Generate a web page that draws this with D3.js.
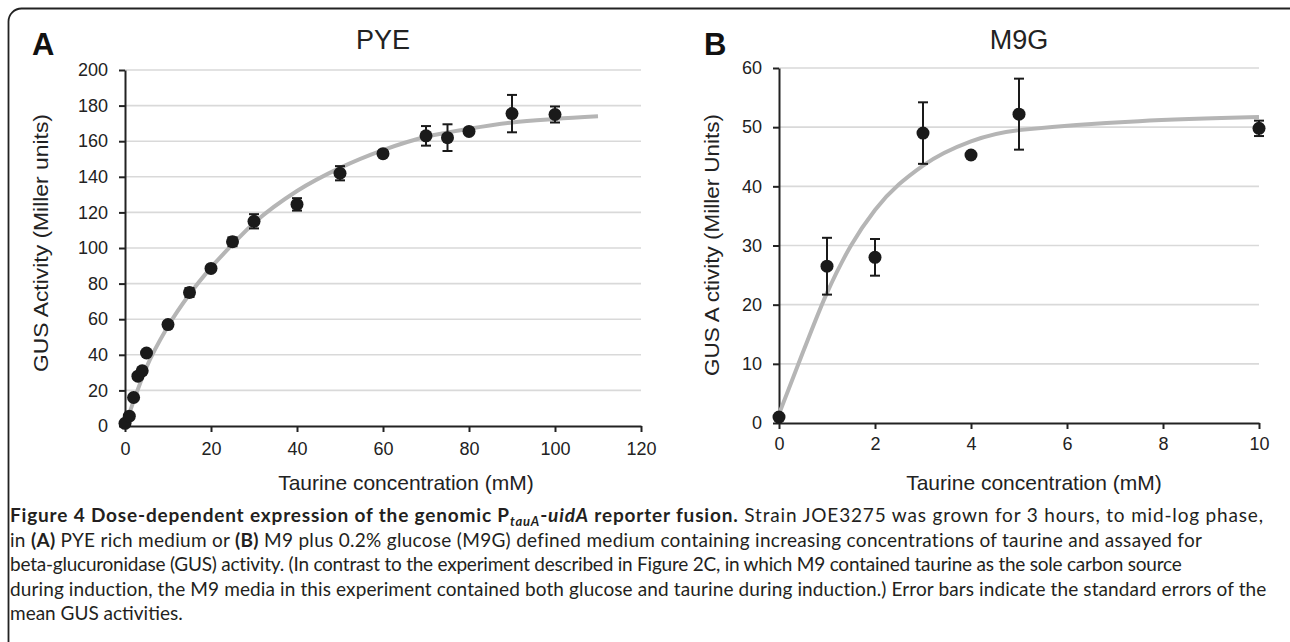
<!DOCTYPE html>
<html>
<head>
<meta charset="utf-8">
<script src="https://cdn.jsdelivr.net/npm/d3@7"></script>
<style>
  body { margin: 0; background: #fff; }
  svg { display: block; }
  .tick text { font-family: "Liberation Sans", Arial, sans-serif; font-size: 18px; fill: #222; }
  .axis path, .axis line { stroke: #222; stroke-width: 2; }
</style>
</head>
<body>
<div id="chart-area"></div>
<script>

// panel A: PYE
const pyeConc = [0, 1, 2, 3, 4, 5, 10, 15, 20, 25, 30, 40, 50, 60, 70, 75, 80, 90, 100]
const pyeGus = [1.5, 5.5, 16, 28, 31, 41, 57, 75, 88.5, 103.5, 115, 124.5, 142, 153, 163, 162, 165.5, 175.5, 175]
const pyeErr = [0.5, 0.5, 1, 1, 1, 1, 1.5, 2.5, 1.5, 2.5, 4, 3.5, 4, 1, 5.5, 7.5, 1, 10.5, 4.5]
const pyeFitX = [0, 2, 5, 10, 15, 20, 25, 30, 40, 50, 60, 70, 80, 90, 100, 110]
const pyeFitY = [0, 14, 33, 56, 74, 89, 102, 114, 132, 145, 155, 162.5, 167, 170.5, 172.5, 174]
const pyeXTicks = [0, 20, 40, 60, 80, 100, 120]
const pyeYTicks = [0, 20, 40, 60, 80, 100, 120, 140, 160, 180, 200]

// panel B: M9G
const m9gConc = [0, 1, 2, 3, 4, 5, 10]
const m9gGus = [1, 26.5, 28, 49, 45.3, 52.2, 49.8]
const m9gErr = [0.3, 4.8, 3.1, 5.2, 0.5, 6, 1.3]
const m9gFitX = [0, 0.5, 1, 1.5, 2, 3, 4, 5, 10]
const m9gFitY = [1.5, 12, 22, 30, 36, 43.5, 47.6, 49.5, 51.7]
const m9gXTicks = [0, 2, 4, 6, 8, 10]
const m9gYTicks = [0, 10, 20, 30, 40, 50, 60]

const FONT = '"Liberation Sans", Arial, sans-serif'
const CAP_FONT = 'Lato, "Open Sans", sans-serif'

const svg = d3.select('#chart-area').append('svg')
    .attr('width', 1290)
    .attr('height', 642)

// figure frame (runs off the right and bottom edge)
svg.append('rect')
    .attr('x', 8.5).attr('y', 8.5)
    .attr('width', 1320).attr('height', 700)
    .attr('rx', 13)
    .attr('fill', 'none')
    .attr('stroke', '#222')
    .attr('stroke-width', 1.8)

function panel(opt) {
    const x = d3.scaleLinear().domain(opt.xDomain).range([opt.left, opt.right])
    const y = d3.scaleLinear().domain(opt.yDomain).range([opt.bottom, opt.top])

    const g = svg.append('g')

    // grid
    g.append('g').selectAll('line')
        .data(opt.yTicks.filter(d => d > 0))
        .enter().append('line')
        .attr('x1', opt.left).attr('x2', opt.right)
        .attr('y1', d => y(d)).attr('y2', d => y(d))
        .attr('stroke', '#d9d9d9')
        .attr('stroke-width', 1.6)

    // axes
    g.append('g')
        .attr('class', 'axis')
        .attr('transform', `translate(0, ${opt.bottom})`)
        .call(d3.axisBottom(x).tickValues(opt.xTicks).tickSizeInner(6).tickSizeOuter(0).tickPadding(opt.xPad))

    g.append('g')
        .attr('class', 'axis')
        .attr('transform', `translate(${opt.left}, 0)`)
        .call(d3.axisLeft(y).tickValues(opt.yTicks).tickSizeInner(6).tickSizeOuter(0).tickPadding(11))

    // fitted curve
    const line = d3.line()
        .x(d => x(d[0]))
        .y(d => y(d[1]))
        .curve(d3.curveMonotoneX)

    g.append('path')
        .datum(opt.fitX.map((d, i) => [d, opt.fitY[i]]))
        .attr('d', line)
        .attr('fill', 'none')
        .attr('stroke', '#b5b5b5')
        .attr('stroke-width', 4)

    const pts = opt.xs.map((d, i) => ({ x: d, y: opt.ys[i], e: opt.errs[i] }))

    // error bars
    const eb = g.append('g').attr('stroke', '#1a1a1a').attr('stroke-width', 2)
    eb.selectAll('.v').data(pts).enter().append('line')
        .attr('x1', d => x(d.x)).attr('x2', d => x(d.x))
        .attr('y1', d => y(d.y - d.e)).attr('y2', d => y(d.y + d.e))
    eb.selectAll('.t').data(pts).enter().append('line')
        .attr('x1', d => x(d.x) - 5).attr('x2', d => x(d.x) + 5)
        .attr('y1', d => y(d.y + d.e)).attr('y2', d => y(d.y + d.e))
    eb.selectAll('.b').data(pts).enter().append('line')
        .attr('x1', d => x(d.x) - 5).attr('x2', d => x(d.x) + 5)
        .attr('y1', d => y(d.y - d.e)).attr('y2', d => y(d.y - d.e))

    g.append('g').selectAll('circle')
        .data(pts)
        .enter().append('circle')
        .attr('cx', d => x(d.x))
        .attr('cy', d => y(d.y))
        .attr('r', 6.5)
        .attr('fill', '#1a1a1a')

    // titles
    g.append('text')
        .attr('x', (opt.left + opt.right) / 2).attr('y', 49)
        .attr('text-anchor', 'middle')
        .style('font-family', FONT).style('font-size', '27px').attr('fill', '#222')
        .text(opt.title)

    g.append('text')
        .attr('x', opt.letterX).attr('y', 55)
        .style('font-family', FONT).style('font-size', '31px').style('font-weight', 'bold').attr('fill', '#111')
        .text(opt.letter)

    g.append('text')
        .attr('x', opt.xLabelX).attr('y', 490)
        .attr('text-anchor', 'middle')
        .style('font-family', FONT).style('font-size', '21px').attr('fill', '#222')
        .text('Taurine concentration (mM)')

    g.append('text')
        .attr('transform', `translate(${opt.yLabelX}, ${opt.yLabelY}) rotate(-90)`)
        .attr('text-anchor', 'middle')
        .attr('textLength', opt.yLabelLen)
        .attr('lengthAdjust', 'spacingAndGlyphs')
        .style('font-family', FONT).style('font-size', opt.yLabelSize).attr('fill', '#222')
        .text(opt.yLabel)
}

panel({
    xs: pyeConc, ys: pyeGus, errs: pyeErr, fitX: pyeFitX, fitY: pyeFitY,
    xTicks: pyeXTicks, yTicks: pyeYTicks,
    xDomain: [0, 120], yDomain: [0, 200],
    left: 125, right: 641, top: 70, bottom: 426, xPad: 10,
    title: 'PYE', letter: 'A', letterX: 32, xLabelX: 406,
    yLabelX: 48, yLabelY: 243, yLabelLen: 258, yLabelSize: '21px',
    yLabel: 'GUS Activity (Miller units)'
})

panel({
    xs: m9gConc, ys: m9gGus, errs: m9gErr, fitX: m9gFitX, fitY: m9gFitY,
    xTicks: m9gXTicks, yTicks: m9gYTicks,
    xDomain: [0, 10], yDomain: [0, 60],
    left: 779, right: 1259, top: 68, bottom: 423, xPad: 8,
    title: 'M9G', letter: 'B', letterX: 704, xLabelX: 1034,
    yLabelX: 719, yLabelY: 245, yLabelLen: 262, yLabelSize: '20px',
    yLabel: 'GUS A ctivity (Miller Units)'
})

// caption, line by line; right ends
const capLines = [
    [['b', 'Figure 4 Dose-dependent expression of the genomic P'], ['bis', 'tauA'], ['b', '-'], ['bi', 'uidA'],
     ['b', ' reporter fusion.'], ['n', ' Strain JOE3275 was grown for 3 hours, to mid-log phase,']],
    [['n', 'in '], ['b', '(A)'], ['n', ' PYE rich medium or '], ['b', '(B)'],
     ['n', ' M9 plus 0.2% glucose (M9G) defined medium containing increasing concentrations of taurine and assayed for']],
    [['n', 'beta-glucuronidase (GUS) activity. (In contrast to the experiment described in Figure 2C, in which M9 contained taurine as the sole carbon source']],
    [['n', 'during induction, the M9 media in this experiment contained both glucose and taurine during induction.) Error bars indicate the standard errors of the']],
    [['n', 'mean GUS activities.']]
]
const capEnds = [1263, 1202, 1182, 1267, null]

capLines.forEach((parts, i) => {
    const t = svg.append('text')
        .attr('x', 10)
        .attr('y', 522 + i * 24.5)
        .style('font-family', CAP_FONT)
        .style('font-size', '19px')
        .attr('fill', '#231f20')
    parts.forEach(p => {
        const s = t.append('tspan').text(p[1])
        if (p[0].includes('b')) s.style('font-weight', 'bold')
        if (p[0].includes('i')) s.style('font-style', 'italic')
        if (p[0].includes('s')) {
            s.style('font-size', '13px').attr('dy', 4)
        }
        if (p[0] === 'b' && p[1] === '-') s.attr('dy', -4)
    })
    if (capEnds[i]) {
        const n = parts.map(p => p[1]).join('').length
        const w = t.node().getComputedTextLength()
        t.style('letter-spacing', ((capEnds[i] - 10 - w) / (n - 1)) + 'px')
    }
})

</script>
</body>
</html>
